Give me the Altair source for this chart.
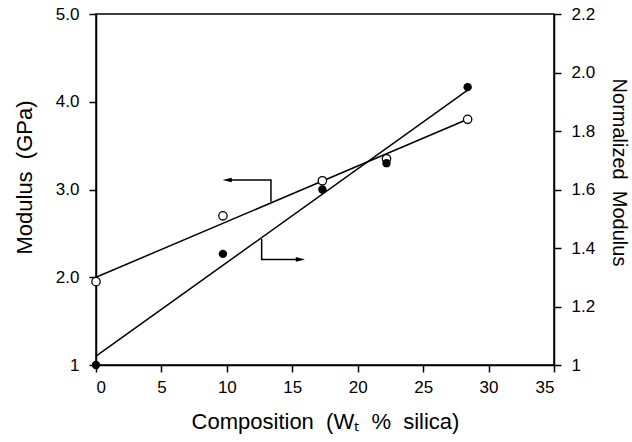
import altair as alt
import pandas as pd

# Data
composition = [0, 9.7, 17.3, 22.2, 28.4]          # wt % silica
modulus = [1.95, 2.70, 3.10, 3.35, 3.80]           # GPa (left axis, open circles)
normalized = [1.00, 1.38, 1.60, 1.69, 1.95]        # normalized modulus (right axis, filled)

fit_x = [0, 28.4]
fit_modulus = [2.00, 3.80]
fit_normalized = [1.03, 1.94]

# annotation arrows (data units of their own axis)
left_arrow_x = [13.37, 13.37, 10.02]
left_arrow_y = [2.86, 3.108, 3.108]
right_arrow_x = [12.66, 12.66, 15.62]
right_arrow_y = [1.431, 1.361, 1.361]

x_ticks = [0, 5, 10, 15, 20, 25, 30, 35]
left_ticks = [1, 2, 3, 4, 5]
right_ticks = [1, 1.2, 1.4, 1.6, 1.8, 2.0, 2.2]

FONT = "Liberation Sans"
SP = "\u00a0\u00a0"

pts_left = pd.DataFrame({"x": composition, "y": modulus})
pts_right = pd.DataFrame({"x": composition, "y": normalized})
fit_left = pd.DataFrame({"x": fit_x, "y": fit_modulus})
fit_right = pd.DataFrame({"x": fit_x, "y": fit_normalized})
arr_left = pd.DataFrame({"x": left_arrow_x, "y": left_arrow_y, "i": range(3)})
arr_right = pd.DataFrame({"x": right_arrow_x, "y": right_arrow_y, "i": range(3)})
head_left = arr_left.iloc[[2]]
head_right = arr_right.iloc[[2]]

x_enc = alt.X(
    "x:Q",
    scale=alt.Scale(domain=[0, 35], nice=False, zero=False),
    axis=alt.Axis(
        values=x_ticks,
        title=f"Composition{SP}(W\u209c{SP}%{SP}silica)",
        titleX=229, titleY=56, titleAlign="center", titleBaseline="middle",
        titleFontSize=22,
        labelPadding=7,
    ),
)

label_expr = "datum.value == 1 ? '1' : format(datum.value, '.1f')"

y_left = alt.Y(
    "y:Q",
    scale=alt.Scale(domain=[1, 5], nice=False, zero=False),
    axis=alt.Axis(
        orient="left", values=left_ticks, labelExpr=label_expr,
        title=f"Modulus{SP}(GPa)", titleAngle=270, titleX=-72, titleY=163,
        titleAlign="center", titleBaseline="middle", titleFontSize=22,
        labelPadding=10,
    ),
)
y_right = alt.Y(
    "y:Q",
    scale=alt.Scale(domain=[1, 2.2], nice=False, zero=False),
    axis=alt.Axis(
        orient="right", values=right_ticks, labelExpr=label_expr,
        title=f"Normalized{SP}Modulus", titleAngle=90, titleX=64, titleY=158,
        titleAlign="center", titleBaseline="middle", titleFontSize=20,
        labelPadding=10,
    ),
)

arrow_shape = "M-1,0L1,-0.5L1,0.5Z"
arrow_shape_r = "M1,0L-1,-0.5L-1,0.5Z"

left_layer = alt.layer(
    alt.Chart(fit_left).mark_line(color="black", strokeWidth=1.5).encode(x=x_enc, y=y_left),
    alt.Chart(arr_left).mark_line(color="black", strokeWidth=1.5).encode(
        x=x_enc, y=y_left, order="i:Q"),
    alt.Chart(head_left).mark_point(shape=arrow_shape, size=85, filled=True,
                                    color="black", opacity=1).encode(x=x_enc, y=y_left),
    alt.Chart(pts_left).mark_point(shape="circle", size=70, filled=True, fill="white",
                                   stroke="black", strokeWidth=1.3, opacity=1).encode(x=x_enc, y=y_left),
)

right_layer = alt.layer(
    alt.Chart(fit_right).mark_line(color="black", strokeWidth=1.5).encode(x=x_enc, y=y_right),
    alt.Chart(arr_right).mark_line(color="black", strokeWidth=1.5).encode(
        x=x_enc, y=y_right, order="i:Q"),
    alt.Chart(head_right).mark_point(shape=arrow_shape_r, size=85, filled=True,
                                     color="black", opacity=1).encode(x=x_enc, y=y_right),
    alt.Chart(pts_right).mark_point(shape="circle", size=70, filled=True,
                                    color="black", opacity=1).encode(x=x_enc, y=y_right),
)

chart = (
    alt.layer(left_layer, right_layer)
    .resolve_scale(y="independent")
    .properties(
        width=458, height=351,
        autosize=alt.AutoSizeParams(type="none"),
        padding={"left": 96, "top": 14, "right": 78, "bottom": 77},
        background="white",
    )
    .configure_view(stroke="black", strokeWidth=1.5)
    .configure_axis(
        grid=False,
        domainColor="black", domainWidth=1.5,
        tickColor="black", tickWidth=1.5, tickSize=7,
        labelFont=FONT, labelFontSize=17, labelColor="black",
        titleFont=FONT, titleColor="black", titleFontWeight="normal",
    )
)

chart.save("out.html", embed_options={"renderer": "svg", "actions": False})
